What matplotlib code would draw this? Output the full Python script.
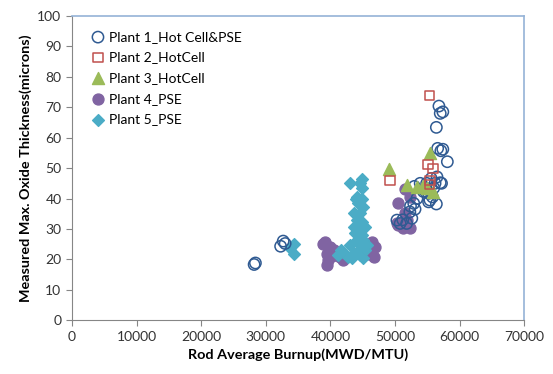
"""
Measured max. oxide thickness vs rod average burnup, five plants.
Saves out.png (553x374).
"""

import matplotlib.pyplot as plt

# ---------------------------------------------------------------
# Data
# ---------------------------------------------------------------
plant1_x = [28200, 28400, 32300, 32700, 33000,
            50300, 50800, 51800, 52300, 52600, 52900, 53100, 53400, 53900,
            54400, 54900, 55200, 55200, 55400, 55600, 56000, 56200, 56400,
            56500, 57000, 57200, 56600, 57100, 57400, 58100, 56400, 56800,
            57400, 57000, 52400, 53000, 51200, 55800]
plant1_y = [18.3, 18.8, 24.3, 26.0, 25.2,
            32.9, 31.8, 31.8, 35.6, 33.5, 38.4, 36.5, 40.0, 45.0,
            42.3, 45.0, 38.9, 41.7, 39.5, 46.6, 43.5, 45.0, 38.2,
            47.1, 45.2, 45.0, 56.5, 55.7, 56.2, 52.1, 63.4, 70.4,
            68.5, 68.0, 37.5, 44.0, 33.0, 40.5]

plant2_x = [55300, 49250, 55100, 55900, 55400, 55300]
plant2_y = [73.8, 46.0, 51.3, 49.9, 46.0, 44.5]

plant3_x = [49000, 55400, 51900, 53400, 54400, 55900, 54900]
plant3_y = [49.7, 55.0, 44.6, 43.9, 44.2, 42.2, 43.5]

plant4_x = [51600, 52300, 50500, 51600, 51800, 50500, 51300, 52300, 50300,
            38900, 39200, 39900, 39400, 40600, 39700, 39400, 41500, 42000,
            46400, 46900, 46100, 46700, 45600, 40200]
plant4_y = [43.0, 40.6, 38.4, 35.4, 32.9, 31.3, 30.2, 30.2, 31.8,
            25.2, 25.8, 24.1, 21.9, 23.0, 19.7, 18.1, 20.8, 19.7,
            25.8, 24.1, 23.0, 20.8, 21.9, 21.0]

plant5_x = [34300, 33800, 34300,
            44900, 44600, 44900, 44100, 44900, 44300, 45100, 43600, 44600,
            44100, 44900, 43600, 44600, 43800, 44900, 44100, 45100, 43100,
            44600, 42000, 42800, 43600, 44600, 45400, 45600, 41200, 41600,
            43300, 44300, 45000, 44000, 43000, 45300]
plant5_y = [25.2, 23.6, 21.9,
            46.5, 45.0, 43.3, 40.6, 40.0, 38.4, 37.3, 35.1, 35.1,
            32.9, 32.4, 30.7, 30.2, 28.5, 28.0, 26.3, 26.3, 24.7,
            24.7, 22.5, 20.8, 21.9, 21.4, 23.0, 24.7, 21.5, 23.0,
            20.5, 22.8, 20.6, 40.0, 45.0, 30.5]

labels = ["Plant 1_Hot Cell&PSE", "Plant 2_HotCell", "Plant 3_HotCell",
          "Plant 4_PSE", "Plant 5_PSE"]

# ---------------------------------------------------------------
# Plot
# ---------------------------------------------------------------
plt.rcParams["font.family"] = ["Lato", "DejaVu Sans"]

fig = plt.figure(figsize=(5.53, 3.74), dpi=100)
ax = fig.add_axes([0.130, 0.144, 0.818, 0.813])

ax.scatter(plant1_x, plant1_y, s=66, facecolors="none", edgecolors="#2F5A92",
           linewidths=1.1, label=labels[0], zorder=3)
ax.scatter(plant2_x, plant2_y, marker="s", s=45, facecolors="none",
           edgecolors="#C0504D", linewidths=1.1, label=labels[1], zorder=4)
ax.scatter(plant3_x, plant3_y, marker="^", s=75, color="#9BBB59",
           label=labels[2], zorder=3)
ax.scatter(plant4_x, plant4_y, s=62, color="#8064A2", label=labels[3], zorder=2)
ax.scatter(plant5_x, plant5_y, marker="D", s=36, color="#4BACC6",
           label=labels[4], zorder=2)

ax.set_xlim(0, 70000)
ax.set_ylim(0, 100)
ax.set_xticks(range(0, 70001, 10000))
ax.set_yticks(range(0, 101, 10))
ax.tick_params(direction="out", length=4, color="#868686", labelsize=10,
               labelcolor="#333333")

for side in ("left", "bottom"):
    ax.spines[side].set_color("#868686")
for side in ("top", "right"):
    ax.spines[side].set_color("#95B3D7")
    ax.spines[side].set_linewidth(1.2)

ax.set_xlabel("Rod Average Burnup(MWD/MTU)", fontsize=10.4, fontweight="bold")
ax.set_ylabel("Measured Max. Oxide Thickness(microns)", fontsize=10.4,
              fontweight="bold")

ax.legend(loc="upper left", frameon=False, fontsize=10, handlelength=1.0,
          handletextpad=0.3, borderaxespad=0, labelspacing=0.62,
          bbox_to_anchor=(0.03, 0.97))

fig.savefig("out.png", dpi=100)
